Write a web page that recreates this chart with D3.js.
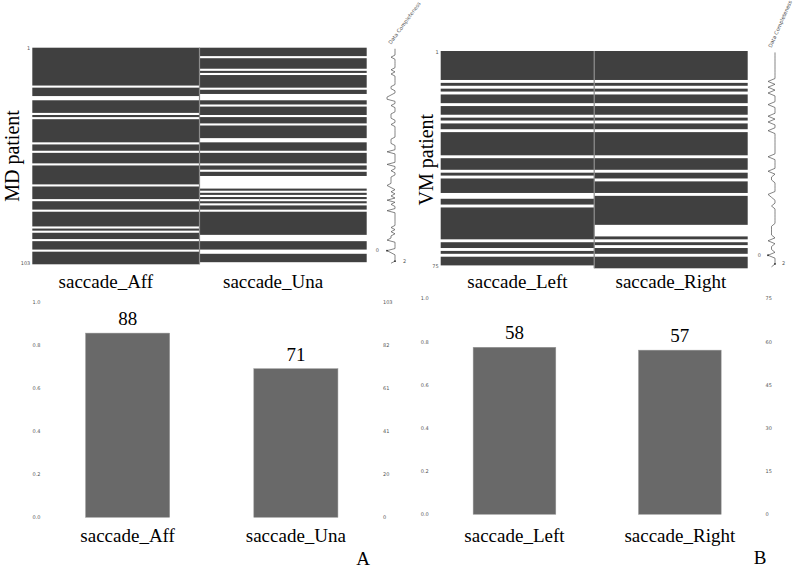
<!DOCTYPE html>
<html>
<head>
<meta charset="utf-8">
<script src="https://cdn.jsdelivr.net/npm/d3@7"></script>
<style>
  body { margin: 0; background: #ffffff; }
  svg { display: block; }
  .serif { font-family: "Liberation Serif", "Times New Roman", serif; fill: #000000; }
  .tiny { font-family: "DejaVu Sans", sans-serif; font-size: 5px; fill: #555555; }
</style>
</head>
<body>
<svg id="chart" width="798" height="570"></svg>
<script>
'use strict';

{ // start scope

//------------------------------------------------------------
// data (row indices are 0-based, top row first)
//------------------------------------------------------------
// panel A : MD patients
const mdColumns = ["saccade_Aff", "saccade_Una"];
const mdRowCount = 103;
const mdMissingAff = [18, 23, 24, 31, 33, 45, 49, 55, 65, 72, 77, 85, 87, 91, 96];
const mdMissingUna = [4, 10, 12, 19, 22, 23, 24, 27, 32, 36, 43, 44, 49, 55, 58,
                      61, 62, 63, 64, 65, 66, 68, 70, 72, 74, 77, 89, 90, 91, 96, 97, 102];
const mdCountLabels = [0, 20, 41, 61, 82, 103];

// panel B : VM patients
const vmColumns = ["saccade_Left", "saccade_Right"];
const vmRowCount = 75;
const vmMissingLeft = [10, 12, 14, 18, 22, 24, 27, 36, 41, 43, 49, 50, 53, 65, 68, 70, 74];
const vmMissingRight = [10, 12, 14, 18, 22, 24, 27, 36, 41, 44, 49, 60, 61, 62, 63, 65, 67, 70];
const vmCountLabels = [0, 15, 30, 45, 60, 75];

// shared
const fractionTicks = [0.0, 0.2, 0.4, 0.6, 0.8, 1.0];

const matrixColor = "#404040";
const barColor = "#696969";

//------------------------------------------------------------
// panel drawing class
//------------------------------------------------------------
function MissingPanel(svg, opt) {
    this.svg = svg.append("g");
    this.opt = opt;

    this.drawMatrix = () => {
        const o = this.opt;
        const g = this.svg.append("g");

        const colScale = d3.scaleBand()
            .domain(o.columns)
            .range([o.matrix.x0, o.matrix.x1]);

        const rowScale = d3.scaleLinear()
            .domain([0, o.rowCount])
            .range([o.matrix.y0, o.matrix.y1]);

        // present rows grouped into runs so adjacent rows do not show seams
        o.columns.forEach((col, c) => {
            const missing = new Set(o.missing[c]);
            let start = null;
            for(let i = 0; i <= o.rowCount; ++i)
            {
                const isPresent = i < o.rowCount && !missing.has(i);
                if(isPresent && start === null)
                {
                    start = i;
                }
                if(!isPresent && start !== null)
                {
                    g.append("rect")
                        .attr("x", colScale(col))
                        .attr("y", rowScale(start))
                        .attr("width", colScale.bandwidth())
                        .attr("height", rowScale(i) - rowScale(start))
                        .style("fill", matrixColor);
                    start = null;
                }
            }
        });

        // column separators
        o.columns.slice(1).forEach((col) => {
            g.append("line")
                .attr("x1", colScale(col)).attr("x2", colScale(col))
                .attr("y1", o.matrix.y0).attr("y2", o.matrix.y1)
                .style("stroke", "#8c8c8c")
                .style("stroke-width", 1.2);
        });

        // first / last row numbers
        g.append("text").attr("class", "tiny")
            .attr("x", o.matrix.x0 - 2).attr("y", rowScale(0.5))
            .attr("text-anchor", "end").attr("dominant-baseline", "middle")
            .text(1);
        g.append("text").attr("class", "tiny")
            .attr("x", o.matrix.x0 - 2).attr("y", rowScale(o.rowCount - 0.5))
            .attr("text-anchor", "end").attr("dominant-baseline", "middle")
            .text(o.rowCount);

        // column names below the matrix
        g.selectAll("text.colname")
            .data(o.columns)
            .enter()
            .append("text")
            .attr("class", "serif colname")
            .attr("x", (d) => colScale(d) + colScale.bandwidth() / 2 + o.topLabelShift)
            .attr("y", 288)
            .attr("text-anchor", "middle")
            .style("font-size", "19px")
            .text((d) => d);

        // y title
        g.append("text").attr("class", "serif")
            .attr("transform", `translate(${o.yTitleX},${(o.matrix.y0 + o.matrix.y1) / 2}) rotate(-90)`)
            .attr("text-anchor", "middle")
            .style("font-size", "20px")
            .text(o.yTitle);

        //++++++++++++++++++++++++++++++
        // data completeness sparkline
        //++++++++++++++++++++++++++++++
        const completeness = d3.range(o.rowCount).map((i) => {
            return o.missing.filter((m) => m.indexOf(i) < 0).length;
        });
        const minC = d3.min(completeness);
        const maxC = d3.max(completeness);

        const sparkX = d3.scaleLinear()
            .domain([minC - 2, maxC + 2])
            .range(o.sparkRange);

        const line = d3.line()
            .x((d) => sparkX(d))
            .y((d, i) => rowScale(i + 0.5));

        g.append("path")
            .datum(completeness)
            .attr("d", line)
            .style("fill", "none")
            .style("stroke", "#505050")
            .style("stroke-width", 0.7);

        // like missingno: first occurrence counted from the bottom
        const minRow = completeness.lastIndexOf(minC);
        const maxRow = completeness.lastIndexOf(maxC);

        [[minC, minRow], [maxC, maxRow]].forEach((p) => {
            g.append("circle")
                .attr("cx", sparkX(p[0])).attr("cy", rowScale(p[1] + 0.5))
                .attr("r", 0.9)
                .style("fill", "#303030");
        });

        g.append("text").attr("class", "tiny")
            .attr("x", sparkX(minC - 2)).attr("y", rowScale(minRow + 0.5))
            .attr("text-anchor", "end").attr("dominant-baseline", "middle")
            .text(minC);
        g.append("text").attr("class", "tiny")
            .attr("x", sparkX(maxC + 2)).attr("y", rowScale(maxRow + 0.5))
            .attr("text-anchor", "start").attr("dominant-baseline", "middle")
            .text(maxC);

        g.append("text").attr("class", "tiny")
            .attr("transform", `translate(${sparkX((minC + maxC) / 2)},${o.matrix.y0 - 3}) rotate(${o.labelAngle})`)
            .attr("text-anchor", "start")
            .style("font-size", "5.2px")
            .text("Data Completeness");
    };

    this.drawBars = () => {
        const o = this.opt;
        const g = this.svg.append("g");

        const xScale = d3.scaleBand()
            .domain(o.columns)
            .range([o.bar.x0, o.bar.x1])
            .paddingInner(0.5)
            .paddingOuter(0.25);

        const yScale = d3.scaleLinear()
            .domain([0, 1])
            .range([o.bar.bottom, o.bar.top]);

        const values = o.missing.map((m) => o.rowCount - m.length);

        g.selectAll("rect")
            .data(o.columns)
            .enter()
            .append("rect")
            .attr("x", (d) => xScale(d))
            .attr("y", (d, i) => yScale(values[i] / o.rowCount))
            .attr("width", xScale.bandwidth())
            .attr("height", (d, i) => yScale(0) - yScale(values[i] / o.rowCount))
            .style("fill", barColor)
            .style("stroke", "#9a9a9a")
            .style("stroke-width", 0.5);

        // count above each bar
        g.selectAll("text.val")
            .data(o.columns)
            .enter()
            .append("text")
            .attr("class", "serif val")
            .attr("x", (d) => xScale(d) + xScale.bandwidth() / 2)
            .attr("y", (d, i) => yScale(values[i] / o.rowCount) - 8)
            .attr("text-anchor", "middle")
            .style("font-size", "19px")
            .text((d, i) => values[i]);

        // names under the bars
        g.selectAll("text.name")
            .data(o.columns)
            .enter()
            .append("text")
            .attr("class", "serif name")
            .attr("x", (d) => xScale(d) + xScale.bandwidth() / 2)
            .attr("y", 542)
            .attr("text-anchor", "middle")
            .style("font-size", "19px")
            .text((d) => d);

        // left axis : fraction, right axis : counts
        const leftAxis = d3.axisLeft(yScale)
            .tickValues(fractionTicks)
            .tickFormat(d3.format(".1f"))
            .tickSize(0)
            .tickPadding(3);

        const rightAxis = d3.axisRight(yScale)
            .tickValues(fractionTicks)
            .tickFormat((d, i) => o.countLabels[i])
            .tickSize(0)
            .tickPadding(3);

        [[leftAxis, o.bar.x0], [rightAxis, o.bar.x1]].forEach((a) => {
            const ag = g.append("g")
                .attr("transform", `translate(${a[1]},0)`)
                .call(a[0]);
            ag.select(".domain").remove();
            ag.attr("font-size", null).attr("font-family", null);
            ag.selectAll("text")
                .attr("class", "tiny")
                .attr("fill", null)
                .style("fill", "#555555");
        });

        g.append("text").attr("class", "serif")
            .attr("x", o.letterPos[0]).attr("y", o.letterPos[1])
            .attr("text-anchor", "middle")
            .style("font-size", "19px")
            .text(o.letter);
    };
}

//------------------------------------------------------------
// main
//------------------------------------------------------------
window.addEventListener("load", (event) => {

const svg = d3.select("#chart");

let panelA = new MissingPanel(svg, {
    columns: mdColumns,
    rowCount: mdRowCount,
    missing: [mdMissingAff, mdMissingUna],
    countLabels: mdCountLabels,
    matrix: {x0: 32.3, x1: 366.7, y0: 47.7, y1: 264.3},
    sparkRange: [379, 403],
    labelAngle: -54,
    topLabelShift: -10,
    yTitle: "MD patient",
    yTitleX: 19,
    bar: {x0: 43.5, x1: 380, top: 301.7, bottom: 517.3},
    letter: "A",
    letterPos: [363, 565]
});
panelA.drawMatrix();
panelA.drawBars();

let panelB = new MissingPanel(svg, {
    columns: vmColumns,
    rowCount: vmRowCount,
    missing: [vmMissingLeft, vmMissingRight],
    countLabels: vmCountLabels,
    matrix: {x0: 440.7, x1: 747.7, y0: 51, y1: 268.3},
    sparkRange: [761, 782],
    labelAngle: -66,
    topLabelShift: 0,
    yTitle: "VM patient",
    yTitleX: 433,
    bar: {x0: 431.8, x1: 762.5, top: 298.3, bottom: 514.3},
    letter: "B",
    letterPos: [760, 564]
});
panelB.drawMatrix();
panelB.drawBars();

}); // end window.addEventListener("load", ...)
} // end scope
</script>
</body>
</html>
